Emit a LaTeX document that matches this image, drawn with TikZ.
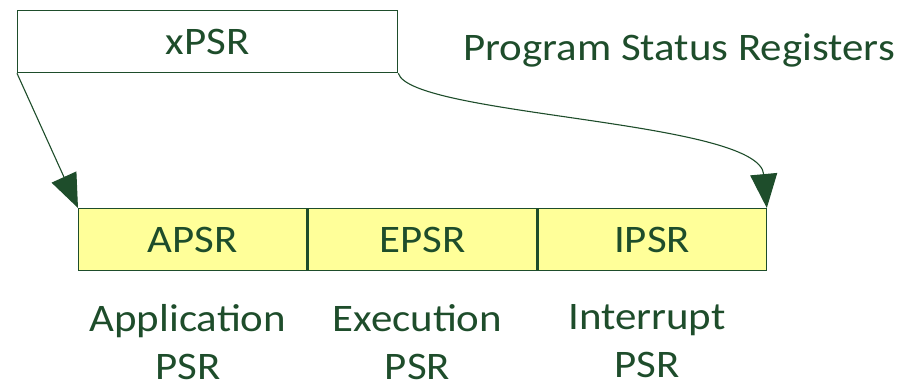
\documentclass[tikz,border=0pt]{standalone}
\usepackage{fontspec}
\setmainfont[FakeStretch=1.1]{Carlito}
\usetikzlibrary{positioning,arrows.meta}
\definecolor{psrgreen}{RGB}{30,77,43}
\definecolor{psryellow}{RGB}{255,255,153}
\begin{document}
\begin{tikzpicture}[x=1pt,y=-1pt,
	txt/.style={text=psrgreen,font=\fontsize{39}{48}\selectfont},
	reg/.style={txt,draw=psrgreen,line width=1.3pt,minimum height=62pt,inner sep=0pt,fill=psryellow,minimum width=228.3pt},
	conn/.style={draw=psrgreen,line width=1.1pt,-{Triangle[length=34pt,width=27pt]}}]
			\useasboundingbox (0,0) rectangle (902,389);
			\node[txt,draw=psrgreen,line width=1.3pt,fill=white,minimum width=380pt,minimum height=62pt,inner sep=0pt,anchor=north west] (xpsr) at (17,10) {xPSR};
			\node[txt] (title) at (679,50) {Program Status Registers};
			\node[reg,anchor=north west] (apsr) at (78,208) {APSR};
			\node[reg,right=0pt of apsr] (epsr) {EPSR};
			\node[reg,right=0pt of epsr] (ipsr) {IPSR};
			\foreach \r/\t in {apsr/Application,epsr/Execution,ipsr/Interrupt}{
				\node[txt,align=center,inner sep=0pt,below=33pt of \r,xshift=-5pt] (\r-name) {\t\\PSR};
			}
			\draw[conn] (xpsr.south west) -- (apsr.north west);
			\draw[conn] (xpsr.south east) .. controls +(13,43) and +(-8,-88) .. (ipsr.north east);
\end{tikzpicture}
\end{document}
